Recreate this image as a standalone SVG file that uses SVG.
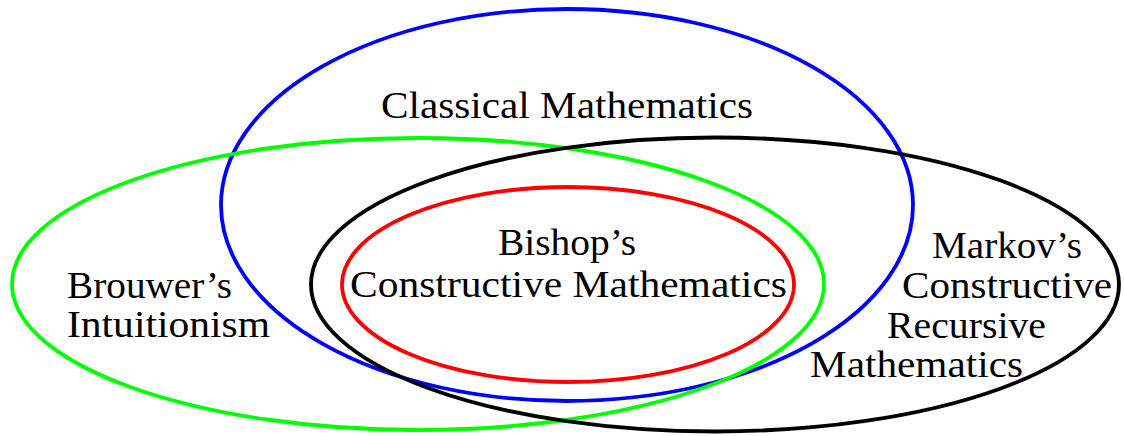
<svg xmlns="http://www.w3.org/2000/svg" width="1124" height="436" viewBox="0 0 1124 436">
<style>
.e{fill:none;stroke-width:3.8}
.t{font-family:"Liberation Serif","DejaVu Serif",serif;font-size:37px;fill:#000}
</style>
<rect width="1124" height="436" fill="#fff"/>
<g id="classical">
<ellipse class="e" cx="567" cy="205" rx="346" ry="196" stroke="#0000ff"/>
<text class="t" x="381" y="118" textLength="372" lengthAdjust="spacingAndGlyphs">Classical Mathematics</text>
</g>
<g id="brouwer">
<ellipse class="e" cx="418" cy="284" rx="406" ry="146" stroke="#00ff00"/>
<text class="t" x="67" y="298" textLength="165" lengthAdjust="spacingAndGlyphs">Brouwer’s</text>
<text class="t" x="67" y="337" textLength="203" lengthAdjust="spacingAndGlyphs">Intuitionism</text>
</g>
<g id="markov">
<ellipse class="e" cx="715" cy="284.5" rx="404" ry="147" stroke="#000"/>
<text class="t" x="932" y="258" textLength="150" lengthAdjust="spacingAndGlyphs">Markov’s</text>
<text class="t" x="902" y="298" textLength="210" lengthAdjust="spacingAndGlyphs">Constructive</text>
<text class="t" x="887" y="338" textLength="159" lengthAdjust="spacingAndGlyphs">Recursive</text>
<text class="t" x="810" y="377" textLength="213" lengthAdjust="spacingAndGlyphs">Mathematics</text>
</g>
<g id="bishop">
<ellipse class="e" cx="568" cy="284.5" rx="226" ry="97.5" stroke="#ff0000"/>
<text class="t" x="498" y="255" textLength="138" lengthAdjust="spacingAndGlyphs">Bishop’s</text>
<text class="t" x="350" y="297" textLength="437" lengthAdjust="spacingAndGlyphs">Constructive Mathematics</text>
</g>
<g id="connectors"/>
</svg>
